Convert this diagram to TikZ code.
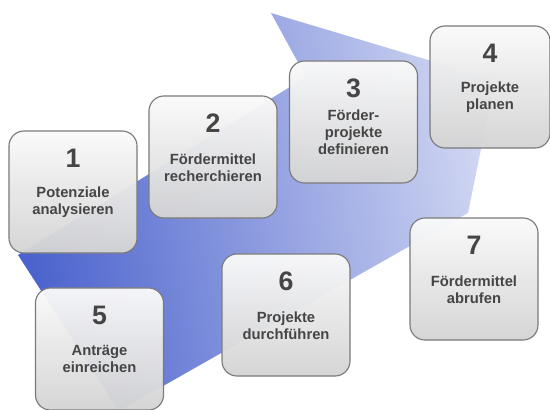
\documentclass[tikz,border=0pt]{standalone}
\usepackage{fontspec}
\setmainfont{Liberation Sans}
\definecolor{arrowdark}{HTML}{4B63CD}
\definecolor{arrowmid}{HTML}{A3AEE6}
\definecolor{arrowlight}{HTML}{D0D6F2}
\definecolor{boxline}{HTML}{7A7A7A}
\definecolor{boxtop}{HTML}{FAFAFA}
\definecolor{boxbottom}{HTML}{D4D4D4}
\definecolor{txtgray}{HTML}{454545}

\begin{document}
\begin{tikzpicture}[x=0.025cm, y=-0.025cm,
  stepbox/.style={draw=boxline, line width=0.8pt, rounded corners=0.375cm,
    top color=boxtop, bottom color=boxbottom, fill opacity=0.96,
    minimum width=3.2cm, minimum height=3.05cm},
  stepnum/.style={text=txtgray, font=\bfseries\fontsize{19}{21}\selectfont, anchor=base, inner sep=0pt},
  steplabel/.style={text=txtgray, font=\bfseries\fontsize{10.5}{12.1}\selectfont, align=center, inner sep=0pt}]
  \clip (0,0) rectangle (550,409);
  \fill[white] (0,0) rectangle (550,409);
  % big arrow in the background
  \shade[left color=arrowdark, middle color=arrowmid, right color=arrowlight, shading angle=100]
    (18,255) -- (306,77) -- (271,13) -- (495,80) -- (468,213) -- (119,411) -- cycle;
  % the seven steps
  \foreach \n/\x/\y/\w/\txt in {
      1/73/192/3.2/{Potenziale\\analysieren},
      2/213/157/3.2/{Fördermittel\\recherchieren},
      3/353.5/122/3.2/{Förder-\\projekte\\definieren},
      4/490/87/3.0/{Projekte\\planen},
      5/99.5/349/3.2/{Anträge\\einreichen},
      6/286/315/3.2/{Projekte\\durchführen},
      7/474/279/3.2/{Fördermittel\\abrufen}}{
    \node[stepbox, minimum width=\w cm] (box\n) at (\x,\y) {};
    \node[stepnum] (num\n) at ([yshift=-0.925cm]box\n.north) {\n};
    \node[steplabel] (label\n) at ([yshift=-1.8cm]box\n.north) {\txt};
  }
\end{tikzpicture}
\end{document}
